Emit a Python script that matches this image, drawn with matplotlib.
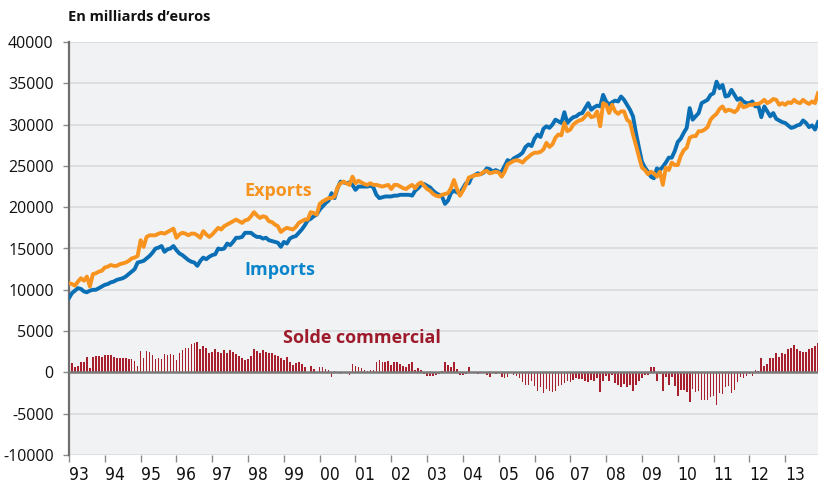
import matplotlib
matplotlib.use("Agg")
import matplotlib.pyplot as plt
import numpy as np

years = [str(y)[-2:] for y in range(1993, 2014)]

imports = [
    9000, 9600, 9900, 10200, 10100, 9800, 9700, 9900, 10000, 10000, 10200, 10400,      # 1993
    10600, 10700, 10900, 11000, 11200, 11300, 11400, 11600, 11900, 12200, 12500, 13300, # 1994
    13400, 13500, 13800, 14100, 14500, 15000, 15100, 15300, 14600, 14900, 15000, 15300, # 1995
    14800, 14400, 14200, 13900, 13600, 13400, 13300, 12900, 13500, 13900, 13700, 14000, # 1996
    14200, 14300, 15000, 14900, 15000, 15600, 15400, 15800, 16300, 16300, 16400, 16900, # 1997
    16900, 16900, 16600, 16400, 16400, 16200, 16300, 16000, 15900, 15800, 15700, 15200, # 1998
    15800, 15600, 16200, 16400, 16500, 16900, 17300, 17800, 18400, 18600, 18900, 19100, # 1999
    19700, 20100, 20500, 20800, 21700, 21100, 22300, 23100, 23000, 22900, 23000, 22700, # 2000
    22100, 22500, 22500, 22500, 22500, 22600, 22400, 21500, 21100, 21200, 21300, 21300, # 2001
    21300, 21400, 21400, 21500, 21500, 21500, 21500, 21400, 22000, 22300, 22700, 22800, # 2002
    22600, 22400, 22000, 21700, 21500, 21300, 20400, 20800, 21700, 22000, 21800, 21700, # 2003
    22300, 22900, 22900, 23700, 23900, 24100, 24000, 24200, 24700, 24600, 24300, 24500, # 2004
    24300, 24300, 25000, 25700, 25500, 25900, 26100, 26300, 26600, 27300, 27600, 27400, # 2005
    28300, 28800, 28500, 29500, 29800, 29600, 30000, 30600, 30400, 30200, 31500, 30200, # 2006
    30600, 30900, 31000, 31300, 31400, 32000, 32600, 31800, 32100, 32300, 32200, 33600, # 2007
    32800, 32400, 32700, 32900, 32800, 33400, 33000, 32400, 31800, 31000, 29000, 27200, # 2008
    25500, 24800, 24300, 23700, 23500, 24700, 24500, 24900, 25400, 26000, 26000, 26800, # 2009
    27900, 28300, 29000, 29600, 32000, 30600, 31000, 31400, 32600, 32800, 33000, 33600, # 2010
    33800, 35200, 34400, 34800, 33400, 33500, 34200, 33600, 33000, 33200, 32800, 32600, # 2011
    32600, 32800, 32200, 32300, 30900, 32200, 31600, 31000, 31400, 30700, 30500, 30300, # 2012
    30200, 29900, 29600, 29700, 29900, 30000, 30500, 30200, 29700, 29900, 29400, 30300, # 2013
]

exports = [
    10800, 10700, 10500, 11000, 11400, 11100, 11600, 10400, 11900, 12000, 12200, 12300, # 1993
    12700, 12800, 13000, 12900, 12900, 13100, 13200, 13300, 13500, 13800, 13900, 14100, # 1994
    16000, 15200, 16400, 16600, 16600, 16600, 16800, 16900, 16800, 17000, 17200, 17400, # 1995
    16300, 16700, 16900, 16800, 16600, 16800, 16800, 16600, 16300, 17100, 16700, 16400, # 1996
    16700, 17100, 17500, 17300, 17700, 17900, 18100, 18300, 18500, 18300, 18100, 18400, # 1997
    18500, 18900, 19400, 19000, 18700, 18900, 18800, 18300, 18200, 17900, 17700, 17000, # 1998
    17300, 17500, 17400, 17300, 17600, 18100, 18300, 18500, 18500, 19400, 19300, 19100, # 1999
    20400, 20700, 20900, 21100, 21100, 21300, 22400, 22900, 23100, 22900, 22700, 23700, # 2000
    22900, 23200, 23000, 22800, 22700, 22900, 22700, 22700, 22600, 22500, 22600, 22700, # 2001
    22200, 22700, 22700, 22500, 22300, 22200, 22500, 22700, 22300, 22800, 23000, 22600, # 2002
    22200, 22000, 21600, 21400, 21300, 21500, 21600, 21700, 22300, 23300, 22200, 21400, # 2003
    22000, 22700, 23600, 23700, 23900, 23900, 24000, 24300, 24400, 24100, 24200, 24300, # 2004
    24200, 23700, 24300, 25200, 25400, 25600, 25700, 25600, 25400, 25800, 26100, 26400, # 2005
    26600, 26600, 26700, 27000, 27800, 27300, 27600, 28400, 28800, 28700, 30200, 29200, # 2006
    29400, 30000, 30300, 30500, 30600, 31000, 31400, 30900, 31000, 31600, 29800, 32600, # 2007
    32400, 31400, 32400, 31600, 31300, 31600, 31600, 30600, 30300, 28800, 27500, 26100, # 2008
    24800, 24500, 24000, 24300, 24100, 23700, 24300, 22700, 24800, 24500, 25400, 25100, # 2009
    25100, 26200, 26900, 27200, 28400, 28600, 28600, 29200, 29200, 29400, 29700, 30600, # 2010
    31000, 31300, 31900, 32200, 31600, 31800, 31700, 31500, 31800, 32600, 32100, 32200, # 2011
    32400, 32400, 32500, 32500, 32700, 33000, 32600, 32800, 33100, 33000, 32400, 32600, # 2012
    32400, 32700, 32600, 33000, 32700, 32600, 33000, 32700, 32500, 32800, 32600, 33800, # 2013
]

y_ticks = [-10000, -5000, 0, 5000, 10000, 15000, 20000, 25000, 30000, 35000, 40000]

imp = np.array(imports, dtype=float)
exp_ = np.array(exports, dtype=float)
solde = exp_ - imp
months = np.arange(len(imp))

plt.rcParams['axes.unicode_minus'] = False

fig = plt.figure(figsize=(8.18, 4.86), dpi=100)
ax = fig.add_axes([69/818, 1 - 455/486, 1 - 69/818, (455 - 42)/486])
ax.set_facecolor('#f1f2f4')

for v in y_ticks:
    if v != 0:
        ax.axhline(v, color='#d9dadc', lw=1.2, zorder=1)

ax.bar(months, solde, width=0.55, color='#a8202e', zorder=2, linewidth=0)
ax.axhline(0, color='#7a7a7a', lw=1.8, zorder=3)

ax.plot(months, imp, color='#0a6fb4', lw=2.8, zorder=4, solid_joinstyle='round')
ax.plot(months, exp_, color='#f7931e', lw=2.8, zorder=5, solid_joinstyle='round')

ax.set_xlim(0, len(imp) - 1)
ax.set_ylim(-10000, 40000)
ax.set_yticks(y_ticks)
ax.set_yticklabels([str(v) for v in y_ticks], fontsize=11.5, family=['Open Sans', 'DejaVu Sans'], color='#111111')

ax.set_xticks(np.arange(0, len(imp), 12))
ax.set_xticklabels(years, fontsize=12.5, family=['Liberation Sans Narrow', 'DejaVu Sans'],
                   fontstretch='condensed', color='#111111', ha='left')

for s in ['top', 'right', 'bottom']:
    ax.spines[s].set_visible(False)
ax.spines['left'].set_color('#6e6e6e')
ax.spines['left'].set_linewidth(1.6)
ax.tick_params(axis='y', length=4, width=1, color='#8a8a8a', pad=7)
ax.tick_params(axis='x', length=5, width=1, color='#8a8a8a', pad=3)

lab_font = ['Open Sans', 'DejaVu Sans']
ax.text(70, 22000, 'Exports', color='#f7931e', fontsize=13, fontweight='bold', family=lab_font, ha='center', va='center', zorder=6)
ax.text(70.7, 12400, 'Imports', color='#0a85cc', fontsize=13, fontweight='bold', family=lab_font, ha='center', va='center', zorder=6)
ax.text(98.2, 4150, 'Solde commercial', color='#9e1b2c', fontsize=13, fontweight='bold', family=lab_font, ha='center', va='center', zorder=6)

fig.text(68/818, 1 - 17/486, 'En milliards d\u2019euros', fontsize=10.5, fontweight='bold', family=lab_font, ha='left', va='center', color='#111111')

fig.savefig('out.png', dpi=100, facecolor='white')
